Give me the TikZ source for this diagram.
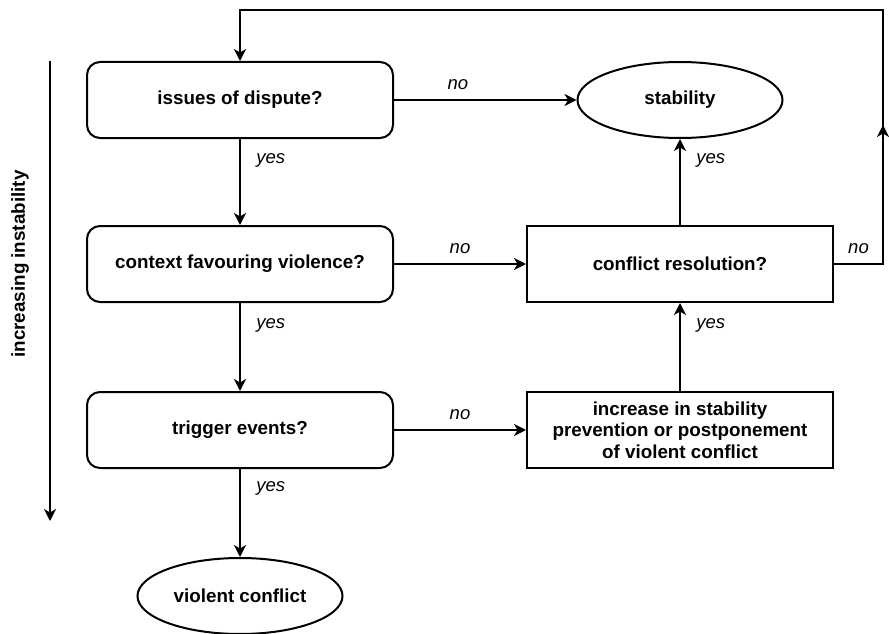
\documentclass[tikz,border=0pt]{standalone}
\usepackage{fontspec}
\setmainfont{Liberation Sans}
\usetikzlibrary{arrows.meta,shapes.geometric}
\begin{document}
\begin{tikzpicture}[x=1pt,y=-1pt,
  line width=2pt,
  >={Stealth[length=12pt,width=12pt,inset=3.5pt]},
  txt/.style={font=\fontsize{18.8}{21.5}\selectfont\bfseries, align=center},
  roundbox/.style={txt, draw, rounded corners=13pt, minimum width=306pt, minimum height=76pt, inner sep=0pt},
  plainbox/.style={txt, draw, minimum width=306pt, minimum height=76pt, inner sep=0pt},
  oval/.style={txt, draw, ellipse, minimum width=205pt, minimum height=76pt, inner sep=0pt},
  lbl/.style={font=\fontsize{18.5}{21}\selectfont\itshape}
]
\useasboundingbox (0,0) rectangle (889,634);

% decision boxes
\node[roundbox] (issues)  at (240,100) {issues of dispute?};
\node[roundbox] (context) at (240,264) {context favouring violence?};
\node[roundbox] (trigger) at (240,430) {trigger events?};

% outcomes
\node[oval] (stab)    at (680,100) {stability};
\node[oval] (violent) at (240,596) {violent conflict};
\node[plainbox] (resol) at (680,264) {conflict resolution?};
\node[plainbox] (incr)  at (680,430) {increase in stability\\prevention or postponement\\of violent conflict};

% vertical flow
\draw[->] (issues) -- node[lbl, right, pos=0.25, xshift=12pt] {yes} (context);
\draw[->] (context) -- node[lbl, right, pos=0.25, xshift=12pt] {yes} (trigger);
\draw[->] (trigger) -- node[lbl, right, pos=0.22, xshift=12pt] {yes} (violent);
\draw[->] (incr) -- node[lbl, right, pos=0.75, xshift=12pt] {yes} (resol);
\draw[->] (resol) -- node[lbl, right, pos=0.75, xshift=12pt] {yes} (stab);

% horizontal flow
\draw[->] (issues.east) -- node[lbl, above, pos=0.35, yshift=6pt] {no} (stab.west);
\draw[->] (context.east) -- node[lbl, above, pos=0.5, yshift=6pt] {no} (resol.west);
\draw[->] (trigger.east) -- node[lbl, above, pos=0.5, yshift=6pt] {no} (incr.west);

% feedback loop
\coordinate (rc) at (883,264);
\coordinate (rt) at (883,10);
\coordinate (lt) at (240,10);
\draw[->] (resol.east) -- node[lbl, above, yshift=6pt] {no} (rc) -- (883,125);
\draw[->] (883,130) -- (rt) -- (lt) -- (issues.north);

% side arrow
\coordinate (sa) at (50,61);
\coordinate (sb) at (50,521);
\draw[->] (sa) -- (sb);
\node[txt, rotate=90] (instab) at (20,264) {increasing instability};
\end{tikzpicture}
\end{document}
